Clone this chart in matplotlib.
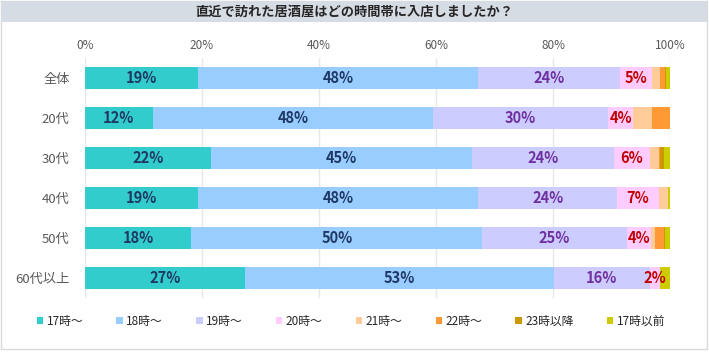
import matplotlib.pyplot as plt
from matplotlib.patches import Patch, Rectangle

plt.rcParams['font.family'] = ['Noto Sans CJK JP', 'DejaVu Sans']

title = "直近で訪れた居酒屋はどの時間帯に入店しましたか？"
categories = ["全体", "20代", "30代", "40代", "50代", "60代以上"]
series = ["17時～", "18時～", "19時～", "20時～", "21時～", "22時～", "23時以降", "17時以前"]
values = [
    [19.3, 47.9, 24.3, 5.4, 1.4, 0.9, 0.2, 0.6],
    [11.6, 47.9, 29.9, 4.3, 3.3, 3.0, 0.0, 0.0],
    [21.5, 44.7, 24.2, 6.2, 1.5, 0.2, 0.7, 1.0],
    [19.3, 47.9, 23.8, 7.1, 1.6, 0.0, 0.0, 0.3],
    [18.2, 49.7, 24.7, 4.2, 0.7, 1.5, 0.2, 0.8],
    [27.4, 52.8, 16.3, 1.8, 0.0, 0.0, 0.0, 1.7],
]
ticks = [0, 20, 40, 60, 80, 100]

colors = ["#33cccc", "#99ccff", "#ccccff", "#ffccff", "#ffcc99", "#ff9933", "#cc9900", "#cccc00"]
label_colors = ["#1f3864", "#1f3864", "#7030a0", "#c00000"]

fig = plt.figure(figsize=(7.09, 3.57), dpi=100)

# outer frame and title band
fig.patches.append(Rectangle((1 / 709, 8 / 357), 706 / 709, 348 / 357, transform=fig.transFigure,
                             facecolor="white", edgecolor="#d9d9d9", lw=1, zorder=-2))
fig.patches.append(Rectangle((1 / 709, 1 - 22 / 357), 706 / 709, 21 / 357, transform=fig.transFigure,
                             facecolor="#d6dce4", edgecolor="none", zorder=-1))
fig.text(0.5, 1 - 11.5 / 357, title, ha="center", va="center", fontsize=9.5,
         fontweight="bold", color="#262626")

ax = fig.add_axes([85 / 709, 59 / 357, 585 / 709, 240 / 357])
ax.set_facecolor("none")

for i, cat in enumerate(categories):
    left = 0
    for j, v in enumerate(values[i]):
        if v > 0:
            ax.barh(i, v, left=left, height=0.55, color=colors[j], edgecolor="none", zorder=2)
            if j < 4 and v >= 1.5:
                ax.text(left + v / 2, i, f"{round(v)}%", ha="center", va="center",
                        fontsize=10.5, fontweight="bold", color=label_colors[j], zorder=3)
        left += v

ax.set_xlim(0, 100)
ax.set_ylim(len(categories) - 0.5, -0.5)
ax.set_xticks(ticks)
ax.set_xticklabels([f"{t}%" for t in ticks])
ax.xaxis.tick_top()
ax.set_yticks(range(len(categories)))
ax.set_yticklabels(categories)
ax.tick_params(axis="x", length=0, pad=4, labelsize=8.5, labelcolor="#595959")
ax.tick_params(axis="y", length=0, pad=11, labelsize=9.5, labelcolor="#595959")
ax.grid(axis="x", color="#e8e8e8", lw=1, zorder=0)
for s in ax.spines.values():
    s.set_visible(False)

handles = [Patch(facecolor=c, edgecolor="none") for c in colors]
fig.legend(handles, series, ncol=8, loc="center", bbox_to_anchor=(0.495, 1 - 321 / 357),
           frameon=False, fontsize=8.5, handlelength=0.55, handleheight=0.55,
           handletextpad=0.3, columnspacing=2.8, labelcolor="#262626")

fig.savefig("out.png", dpi=100)
